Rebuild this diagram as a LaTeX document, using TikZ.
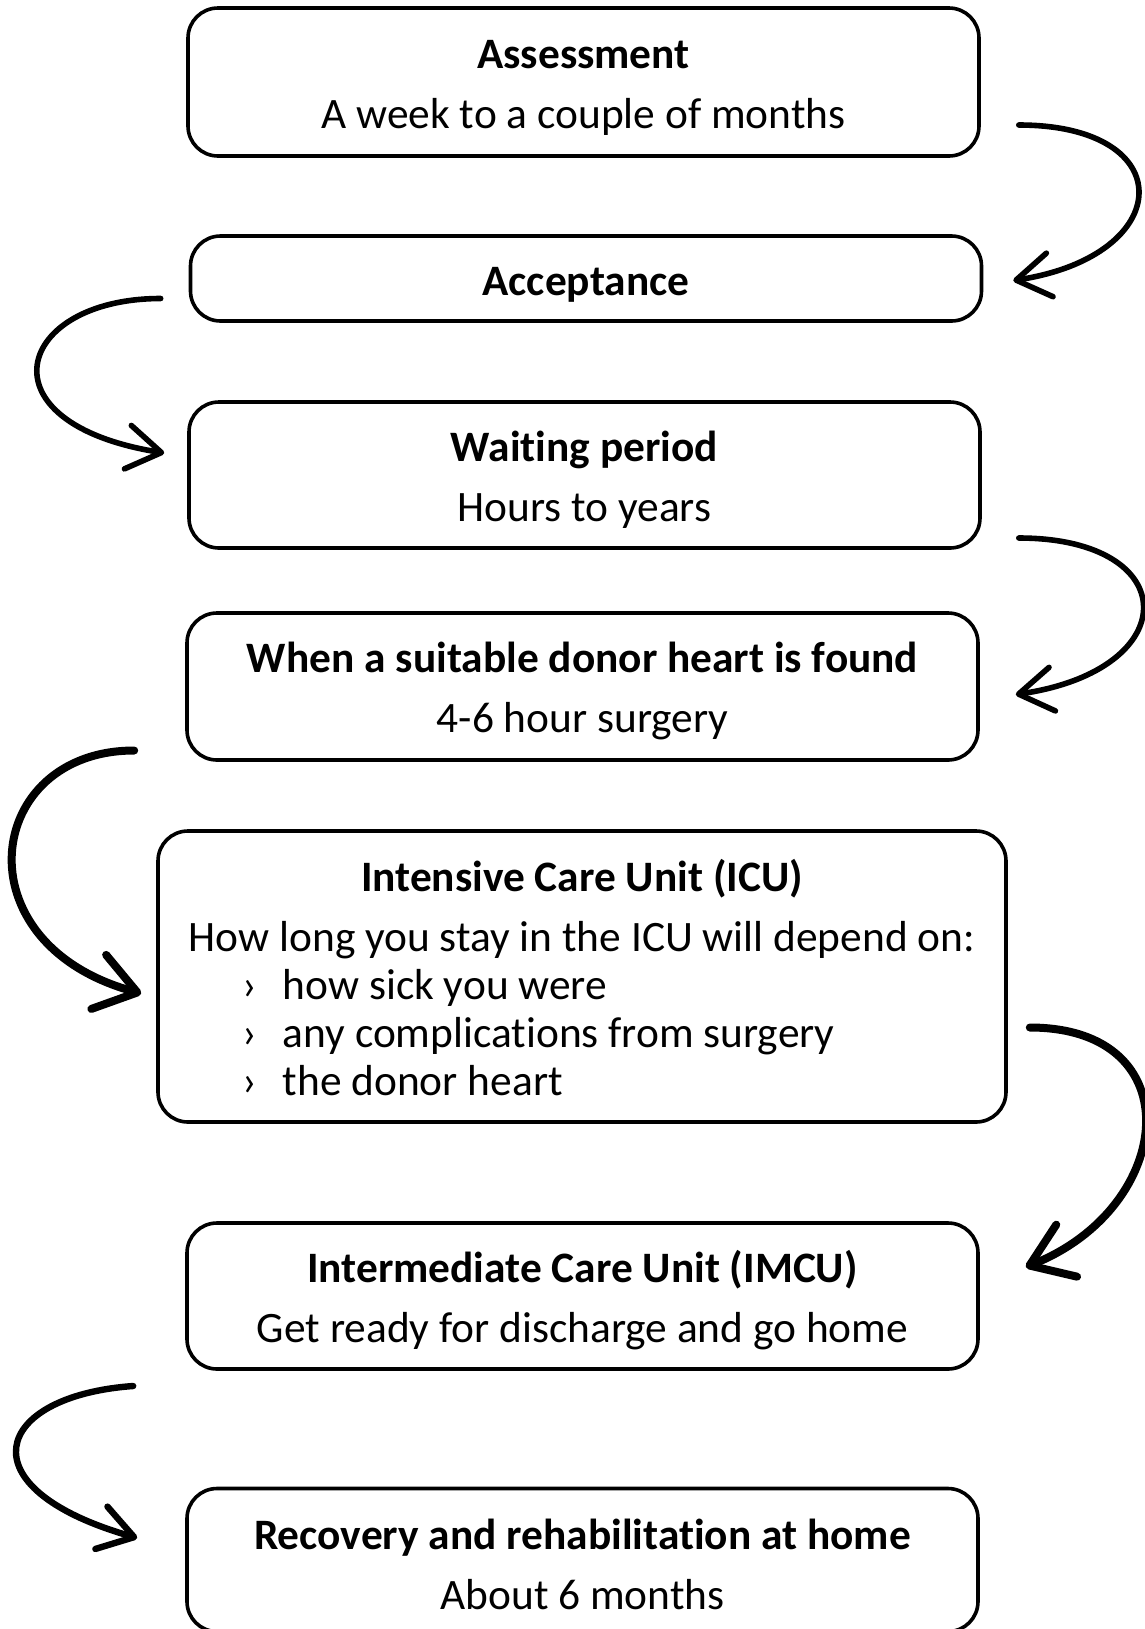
\documentclass[tikz,border=0pt]{standalone}
\usepackage{fontspec}
\setmainfont{Carlito}[Ligatures=NoCommon]
\usetikzlibrary{arrows.meta}

% extra room above the first line of a box
\newcommand{\topgap}[1][20pt]{\rule{0pt}{#1}}

\tikzset{
  stage/.style={draw=black, line width=1.8pt, rounded corners=15pt, align=center,
        minimum width=395.5pt, inner sep=0pt, font=\fontsize{21.7}{30}\selectfont},
  flow/.style={line width=2.8pt, line cap=round,
        -{Straight Barb[round, length=17pt, width=22pt]}},
  bigflow/.style={flow, line width=4pt,
        -{Straight Barb[round, length=20pt, width=28pt]}},
}

\begin{document}
\begin{tikzpicture}[x=0.5pt, y=-0.5pt]
  \useasboundingbox (0,0) rectangle (1145,1629);

  % Stage boxes (top to bottom)
  \node[stage, minimum height=74pt] (assess) at (583.5,82) {\topgap\textbf{Assessment}\\A week to a couple of months};
  \node[stage, minimum height=42.5pt] (accept) at (586,278.5) {\topgap\textbf{Acceptance}};
  \node[stage, minimum height=73pt] (wait) at (584.5,475) {\topgap\textbf{Waiting period}\\Hours to years};
  \node[stage, minimum height=73.5pt] (donor) at (582.5,686.5) {\topgap\textbf{When a suitable donor heart is found}\\4-6 hour surgery};
  \node[stage, minimum width=424pt, minimum height=145.5pt] (icu) at (582,976.5) {
        \topgap[24pt]\textbf{Intensive Care Unit (ICU)}\\
        \renewcommand{\arraystretch}{0.8}%
        \begin{tabular}[t]{@{}l@{}}
        How long you stay in the ICU will depend on:\\
        \hspace*{27pt}\makebox[20pt][l]{›}how sick you were\\
        \hspace*{27pt}\makebox[20pt][l]{›}any complications from surgery\\
        \hspace*{27pt}\makebox[20pt][l]{›}the donor heart
        \end{tabular}};
  \node[stage, minimum height=73pt] (imcu) at (582.5,1296) {\topgap\textbf{Intermediate Care Unit (IMCU)}\\Get ready for discharge and go home};
  \node[stage, minimum height=71.5pt] (home) at (582.5,1560) {\topgap\textbf{Recovery and rehabilitation at home}\\About 6 months};

  % Curved arrows, alternating right and left
  \draw[flow] ([shift={(38,43)}]assess.east) .. controls +(163,0) and +(163,-25) .. ([shift={(30,2)}]accept.east);
  \draw[flow] ([shift={(-28,20)}]accept.west) .. controls +(-145,0) and +(-187,-30) .. ([shift={(-23,-22)}]wait.west);
  \draw[flow] ([shift={(37,63)}]wait.east) .. controls +(165,0) and +(170,-25) .. ([shift={(36,8)}]donor.east);
  \draw[bigflow] ([shift={(-51,64)}]donor.west) .. controls +(-150,0) and +(-183,-50) .. ([shift={(-15,17)}]icu.west);
  \draw[bigflow] ([shift={(22,51)}]icu.east) .. controls +(163,0) and +(150,-60) .. ([shift={(46,-29)}]imcu.east);
  \draw[flow, line width=3.2pt] ([shift={(-52,90)}]imcu.west) .. controls +(-140,10) and +(-175,-50) .. ([shift={(-48,-22)}]home.west);

\end{tikzpicture}
\end{document}
